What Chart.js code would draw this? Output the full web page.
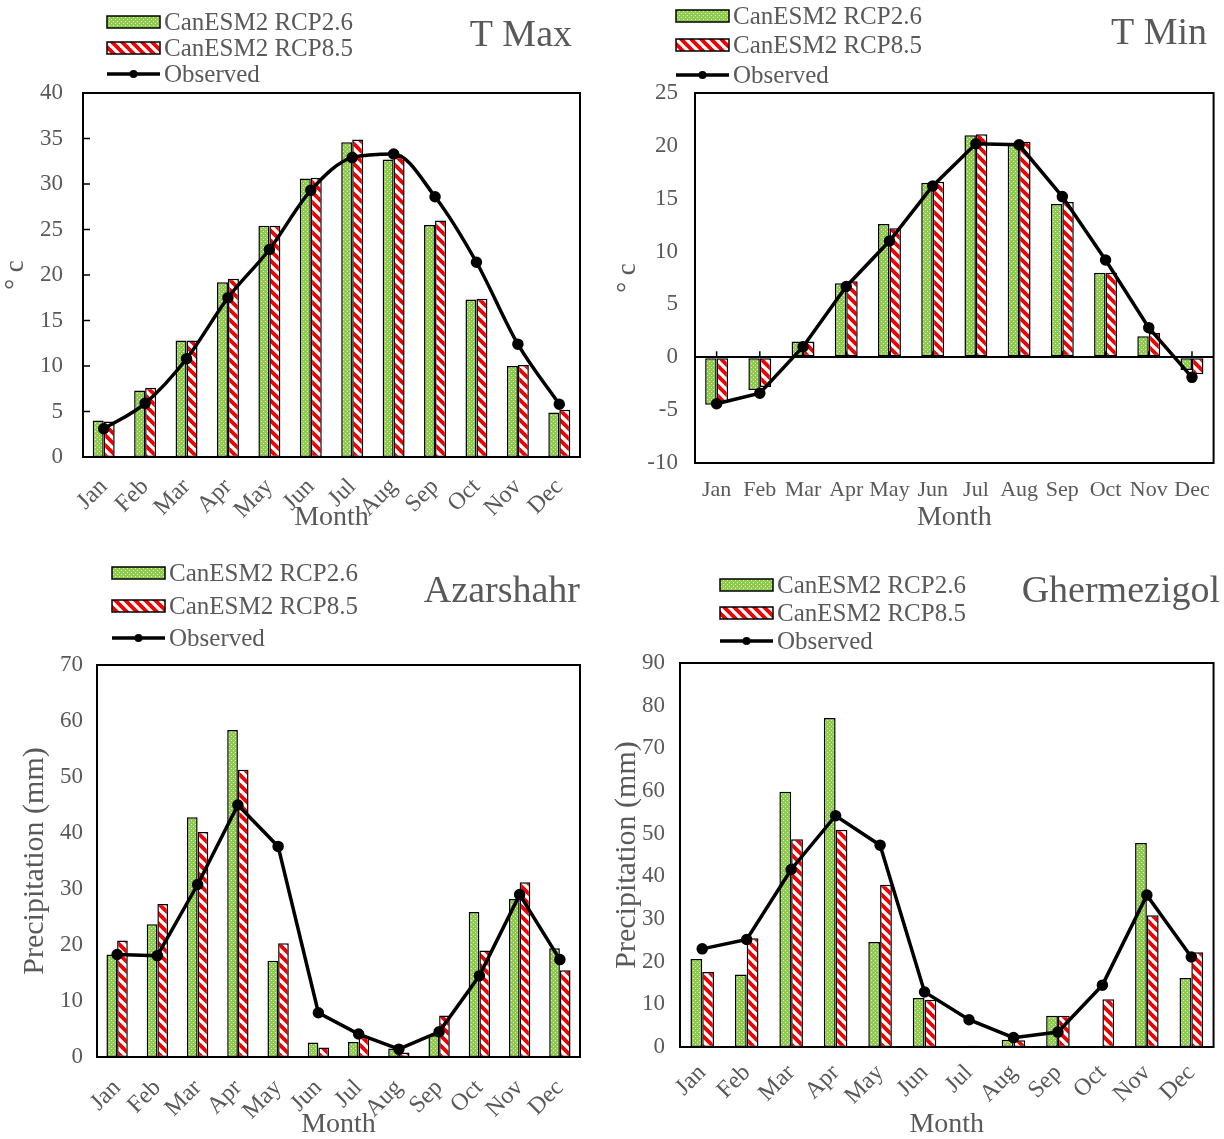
<!DOCTYPE html>
<html>
<head>
<meta charset="utf-8">
<script src="https://cdn.jsdelivr.net/npm/chart.js@4.4.0/dist/chart.umd.min.js"></script>
<style>
  html, body { margin: 0; padding: 0; background: #fff; }
  body { width: 1224px; height: 1139px; position: relative; overflow: hidden; }
  canvas { position: absolute; }
</style>
</head>
<body>
<canvas id="tmax"></canvas>
<canvas id="tmin"></canvas>
<canvas id="azar"></canvas>
<canvas id="gher"></canvas>
<script>
const months = ["Jan", "Feb", "Mar", "Apr", "May", "Jun", "Jul", "Aug", "Sep", "Oct", "Nov", "Dec"];
const seriesNames = ["CanESM2 RCP2.6", "CanESM2 RCP8.5", "Observed"];

// T Max (°C)
const tmaxRcp26 = [4.0, 7.3, 12.8, 19.2, 25.4, 30.6, 34.6, 32.7, 25.5, 17.3, 10.0, 4.9];
const tmaxRcp85 = [3.9, 7.6, 12.8, 19.6, 25.4, 30.7, 34.9, 33.0, 26.0, 17.4, 10.1, 5.2];
const tmaxObs = [3.1, 5.9, 10.8, 17.5, 22.8, 29.3, 32.9, 33.3, 28.6, 21.4, 12.4, 5.8];
const tmaxTicks = [0, 5, 10, 15, 20, 25, 30, 35, 40];

// T Min (°C)
const tminRcp26 = [-4.5, -3.1, 1.5, 7.0, 12.6, 16.5, 21.0, 20.1, 14.5, 8.0, 2.0, -1.2];
const tminRcp85 = [-4.2, -2.8, 1.5, 7.2, 12.2, 16.6, 21.1, 20.4, 14.7, 8.0, 2.3, -1.6];
const tminObs = [-4.4, -3.4, 1.0, 6.7, 11.0, 16.2, 20.2, 20.1, 15.2, 9.2, 2.8, -1.9];
const tminTicks = [-10, -5, 0, 5, 10, 15, 20, 25];

// Azarshahr precipitation (mm)
const azarRcp26 = [18.3, 23.7, 42.8, 58.4, 17.2, 2.6, 2.7, 1.5, 3.9, 25.9, 28.2, 19.4];
const azarRcp85 = [20.8, 27.3, 40.2, 51.3, 20.3, 1.7, 3.6, 0.8, 7.4, 19.0, 31.2, 15.5];
const azarObs = [18.3, 18.1, 30.8, 45.0, 37.6, 7.9, 4.1, 1.4, 4.5, 14.5, 29.0, 17.4];
const azarTicks = [0, 10, 20, 30, 40, 50, 60, 70];

// Ghermezigol precipitation (mm)
const gherRcp26 = [20.6, 17.0, 59.8, 77.1, 24.6, 11.5, 0.2, 1.7, 7.3, 0, 47.8, 16.2];
const gherRcp85 = [17.6, 25.5, 48.7, 50.9, 38.0, 11.1, 0.3, 1.6, 7.3, 11.2, 30.9, 22.2];
const gherObs = [23.0, 25.2, 41.6, 54.2, 47.3, 12.9, 6.4, 2.2, 3.5, 14.5, 35.6, 21.1];
const gherTicks = [0, 10, 20, 30, 40, 50, 60, 70, 80, 90];

const GRAY = "#595959";
const SERIF = '"Liberation Serif", "Times New Roman", serif';
Chart.defaults.font.family = SERIF;

// fill patterns
function dotPattern() {
  const c = document.createElement("canvas");
  c.width = 4; c.height = 4;
  const g = c.getContext("2d");
  g.fillStyle = "#8fcb4c";
  g.fillRect(0, 0, 4, 4);
  g.fillStyle = "#e2f3c8";
  g.fillRect(1, 1, 1, 1);
  g.fillRect(3, 3, 1, 1);
  return g.createPattern(c, "repeat");
}
function stripePattern() {
  const s = 10;
  const c = document.createElement("canvas");
  c.width = s; c.height = s;
  const g = c.getContext("2d");
  g.fillStyle = "#fff";
  g.fillRect(0, 0, s, s);
  g.strokeStyle = "#f00000";
  g.lineWidth = 3.8;
  for (const o of [-s, 0, s]) {
    g.beginPath();
    g.moveTo(o - 2, -2);
    g.lineTo(o + s + 2, s + 2);
    g.stroke();
  }
  return g.createPattern(c, "repeat");
}
const greenFill = dotPattern();
const redFill = stripePattern();

// frame, inner ticks, legend and title
const decor = {
  id: "decor",
  beforeDatasetsDraw(chart, args, o) {
    const { ctx, chartArea: a } = chart;
    ctx.save();
    ctx.strokeStyle = "#000";
    ctx.lineWidth = 2;
    ctx.strokeRect(a.left, a.top, a.right - a.left, a.bottom - a.top);
    if (o.innerTicks) {
      const y = chart.scales.y;
      ctx.lineWidth = 1.5;
      y.ticks.forEach(t => {
        const py = y.getPixelForValue(t.value);
        ctx.beginPath();
        ctx.moveTo(a.left, py);
        ctx.lineTo(a.left + 7, py);
        ctx.stroke();
      });
    }
    if (o.zeroTicks) {
      // category tick marks sitting on the zero line
      const x = chart.scales.x, y0 = chart.scales.y.getPixelForValue(0);
      ctx.lineWidth = 1.5;
      months.forEach((m, i) => {
        const px = x.getPixelForValue(i);
        ctx.beginPath();
        ctx.moveTo(px, y0);
        ctx.lineTo(px, y0 - 6);
        ctx.stroke();
      });
    }
    ctx.restore();
  },
  afterDraw(chart, args, o) {
    const { ctx } = chart;
    const ds = chart.data.datasets;
    ctx.save();
    ctx.font = "25px " + SERIF;
    ctx.textBaseline = "middle";
    ctx.textAlign = "left";
    o.rows.forEach((ry, i) => {
      const d = ds[i];
      const x = o.x, w = 53;
      if (d.type === "line") {
        ctx.strokeStyle = "#000";
        ctx.lineWidth = 3.5;
        ctx.beginPath();
        ctx.moveTo(x, ry);
        ctx.lineTo(x + w, ry);
        ctx.stroke();
        ctx.fillStyle = "#000";
        ctx.beginPath();
        ctx.arc(x + w / 2, ry, 4, 0, Math.PI * 2);
        ctx.fill();
      } else {
        ctx.fillStyle = d.backgroundColor;
        ctx.fillRect(x, ry - 6, w, 12);
        ctx.strokeStyle = "#000";
        ctx.lineWidth = 1.5;
        ctx.strokeRect(x, ry - 6, w, 12);
      }
      ctx.fillStyle = GRAY;
      ctx.fillText(d.label, x + w + 4, ry + 1);
    });
    ctx.font = "38px " + SERIF;
    ctx.textAlign = "right";
    ctx.fillStyle = GRAY;
    ctx.fillText(o.title, o.titleRight, o.titleY);
    ctx.restore();
  }
};

function build(spec) {
  const { id, box, area, ticks } = spec;
  const cv = document.getElementById(id);
  cv.width = box.w;
  cv.height = box.h;
  cv.style.left = box.x + "px";
  cv.style.top = box.y + "px";

  const monthLH = spec.monthFont * 1.2;
  const xBottom = spec.monthY + monthLH / 2;
  const yWidth = area.l - box.x;
  const xHeight = xBottom - area.b;

  const toLocal = v => v - box.x;
  new Chart(cv, {
    type: "bar",
    data: {
      labels: months,
      datasets: [
        { label: seriesNames[0], data: spec.rcp26, order: 1, backgroundColor: greenFill,
          borderColor: "#000", borderWidth: 1.5, borderSkipped: false },
        { label: seriesNames[1], data: spec.rcp85, order: 2, backgroundColor: redFill,
          borderColor: "#000", borderWidth: 1.5, borderSkipped: false },
        { type: "line", label: seriesNames[2], data: spec.obs, order: 0,
          borderColor: "#000", borderWidth: 3.5, pointRadius: 4,
          pointBackgroundColor: "#000", pointBorderColor: "#000",
          tension: spec.smooth ? 0.4 : 0,
          cubicInterpolationMode: spec.smooth ? "monotone" : "default",
          fill: false }
      ]
    },
    options: {
      responsive: false,
      animation: false,
      datasets: { bar: { categoryPercentage: 0.53, barPercentage: 1.0 } },
      layout: {
        padding: {
          left: 0,
          top: area.t - box.y,
          right: box.x + box.w - area.r,
          bottom: box.y + box.h - xBottom
        }
      },
      plugins: {
        legend: { display: false },
        tooltip: { enabled: false },
        decor: {
          innerTicks: spec.innerTicks,
          zeroTicks: spec.zeroLine,
          x: toLocal(spec.legend.x),
          rows: spec.legend.rows.map(r => r - box.y),
          title: spec.title,
          titleRight: toLocal(spec.titleRight),
          titleY: spec.titleY - box.y
        }
      },
      scales: {
        x: {
          grid: { display: false, drawTicks: false },
          border: { display: false },
          ticks: {
            color: GRAY, font: { size: spec.xFont },
            minRotation: spec.rot, maxRotation: spec.rot,
            autoSkip: false, padding: spec.xPad
          },
          title: { display: true, text: "Month", color: GRAY, font: { size: spec.monthFont }, padding: 0 },
          afterFit: s => { s.height = xHeight; }
        },
        y: {
          min: ticks[0],
          max: ticks[ticks.length - 1],
          grid: {
            display: spec.zeroLine === true,
            drawTicks: false,
            color: c => (c.tick && c.tick.value === 0 ? "#000" : "rgba(0,0,0,0)"),
            lineWidth: 2
          },
          border: { display: false },
          ticks: { stepSize: ticks[1] - ticks[0], color: GRAY, font: { size: spec.yFont }, padding: spec.yPad },
          title: {
            display: true, text: spec.yTitle, color: GRAY,
            font: { size: spec.yTitleFont }, padding: { top: spec.yTitlePad, bottom: 0 }
          },
          afterFit: s => { s.width = yWidth; }
        }
      }
    },
    plugins: [decor]
  });
}

build({
  id: "tmax", box: { x: 0, y: 0, w: 612, h: 545 },
  area: { l: 83, t: 93, r: 580, b: 457 }, ticks: tmaxTicks,
  rcp26: tmaxRcp26, rcp85: tmaxRcp85, obs: tmaxObs, smooth: true, innerTicks: true,
  monthY: 518, monthFont: 28, rot: 45, xFont: 24, xPad: 16, yFont: 23, yPad: 20,
  yTitle: "° c", yTitleFont: 27, yTitlePad: 0,
  legend: { x: 107, rows: [22, 48, 74] }, title: "T Max", titleRight: 572, titleY: 36
});

build({
  id: "tmin", box: { x: 612, y: 0, w: 612, h: 545 },
  area: { l: 695, t: 93, r: 1220, b: 463 }, ticks: tminTicks,
  rcp26: tminRcp26, rcp85: tminRcp85, obs: tminObs, smooth: false, zeroLine: true,
  monthY: 518, monthFont: 28, rot: 0, xFont: 22, xPad: 14, yFont: 23, yPad: 17,
  yTitle: "° c", yTitleFont: 27, yTitlePad: 0,
  legend: { x: 676, rows: [16, 45, 75] }, title: "T Min", titleRight: 1207, titleY: 34
});

build({
  id: "azar", box: { x: 0, y: 545, w: 612, h: 594 },
  area: { l: 97, t: 665, r: 580, b: 1057 }, ticks: azarTicks,
  rcp26: azarRcp26, rcp85: azarRcp85, obs: azarObs, smooth: false,
  monthY: 1125, monthFont: 28, rot: 45, xFont: 24, xPad: 17, yFont: 23, yPad: 14,
  yTitle: "Precipitation (mm)", yTitleFont: 30, yTitlePad: 17,
  legend: { x: 112, rows: [573, 606, 638] }, title: "Azarshahr", titleRight: 580, titleY: 592
});

build({
  id: "gher", box: { x: 612, y: 545, w: 612, h: 594 },
  area: { l: 680, t: 663, r: 1220, b: 1047 }, ticks: gherTicks,
  rcp26: gherRcp26, rcp85: gherRcp85, obs: gherObs, smooth: false,
  monthY: 1125, monthFont: 28, rot: 45, xFont: 24, xPad: 12, yFont: 23, yPad: 15,
  yTitle: "Precipitation (mm)", yTitleFont: 30, yTitlePad: -3,
  legend: { x: 720, rows: [585, 613, 641] }, title: "Ghermezigol", titleRight: 1220, titleY: 592
});
</script>
</body>
</html>
